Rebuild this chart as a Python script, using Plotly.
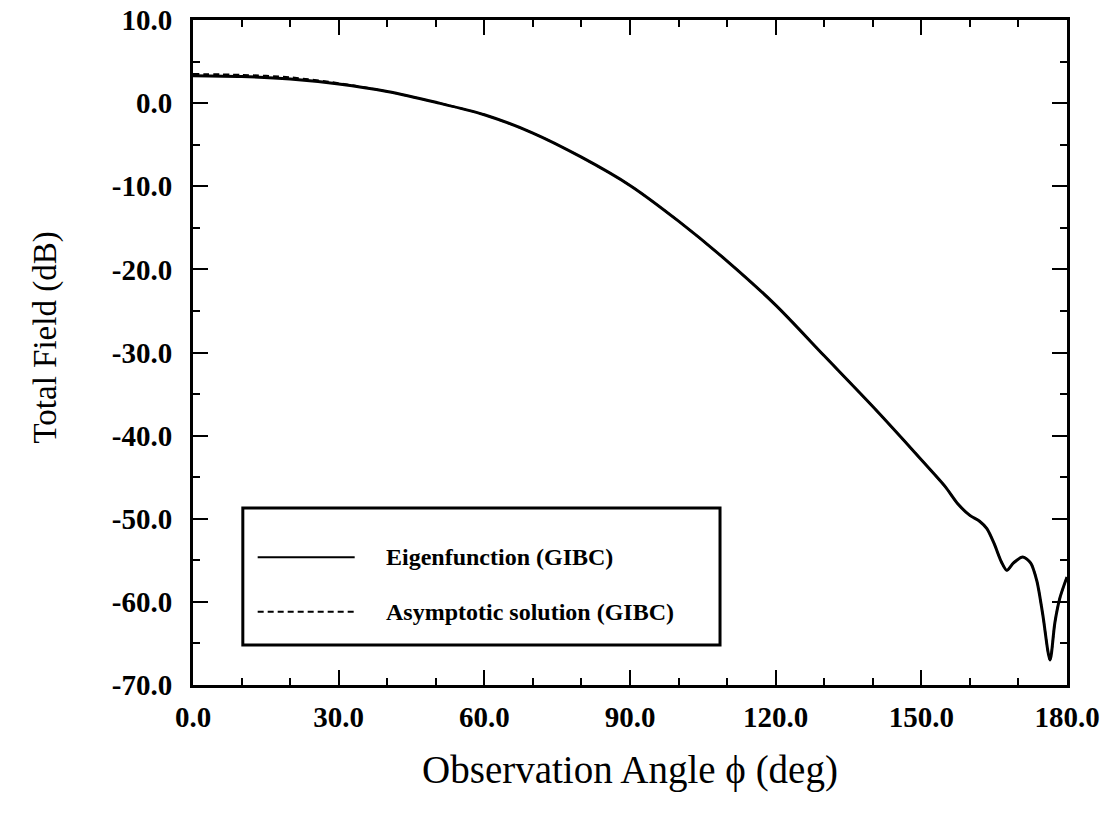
import plotly.graph_objects as go

# Observation angle (deg) and total field (dB)
angle = [0, 10, 20, 30, 40, 50, 60, 70, 80, 90, 100, 110, 120, 130, 140, 148,
         152, 155, 157.5, 160, 162, 163.5, 165, 166.5, 167.6, 169, 170.9,
         172.5, 173.8, 175, 176.5, 177.5, 178.5, 180]
eigen = [3.3, 3.2, 2.9, 2.3, 1.4, 0.1, -1.4, -3.6, -6.5, -9.9, -14.2, -19.0, -24.3,
         -30.4, -36.5, -41.6, -44.2, -46.2, -48.2, -49.6, -50.3, -51.2, -53.0, -55.2,
         -56.2, -55.3, -54.6, -55.3, -57.5, -61.5, -67.0, -62.5, -59.6, -57.0]
asym = [3.5, 3.4, 3.1, 2.4, 1.4, 0.1, -1.4, -3.6, -6.5, -9.9, -14.2, -19.0, -24.3,
        -30.4, -36.5, -41.6, -44.2, -46.2, -48.2, -49.6, -50.3, -51.2, -53.0, -55.2,
        -56.2, -55.3, -54.6, -55.3, -57.5, -61.5, -67.0, -62.5, -59.6, -57.0]

x_ticks = [0, 30, 60, 90, 120, 150, 180]
x_labels = ["0.0", "30.0", "60.0", "90.0", "120.0", "150.0", "180.0"]
y_ticks = [10, 0, -10, -20, -30, -40, -50, -60, -70]
y_labels = ["10.0", "0.0", "-10.0", "-20.0", "-30.0", "-40.0", "-50.0", "-60.0", "-70.0"]
legend_names = ["Eigenfunction (GIBC)", "Asymptotic solution (GIBC)"]
x_title = "Observation Angle \u03d5 (deg)"
y_title = "Total Field (dB)"

FONT = "Liberation Serif"
DASH = "6px,4px"

fig = go.Figure()
fig.add_trace(go.Scatter(x=angle, y=asym, mode="lines", name=legend_names[1],
                         line=dict(color="black", width=2, dash=DASH, shape="spline", smoothing=0.8),
                         showlegend=False))
fig.add_trace(go.Scatter(x=angle, y=eigen, mode="lines", name=legend_names[0],
                         line=dict(color="black", width=3, shape="spline", smoothing=0.8),
                         showlegend=False))

axis_common = dict(showline=True, linecolor="black", linewidth=3, mirror="ticks",
                   ticks="inside", ticklen=15, tickwidth=2, tickcolor="black",
                   showgrid=False, zeroline=False,
                   tickfont=dict(family=FONT, size=29, color="black", weight="bold"))

fig.update_xaxes(range=[0, 180], tickvals=x_ticks, ticktext=x_labels,
                 minor=dict(dtick=10, ticks="inside", ticklen=7, tickwidth=2, tickcolor="black"),
                 title=dict(text=x_title, font=dict(family=FONT, size=39, color="black"), standoff=24),
                 ticklabelstandoff=4,
                 **axis_common)
fig.update_yaxes(range=[-70, 10], tickvals=y_ticks, ticktext=y_labels,
                 minor=dict(dtick=5, ticks="inside", ticklen=7, tickwidth=2, tickcolor="black"),
                 ticklabelstandoff=12,
                 **axis_common)

# Legend box drawn in paper coordinates
shapes = [
    dict(type="rect", xref="paper", yref="paper", x0=0.057, x1=0.603, y0=0.060, y1=0.266,
         line=dict(color="black", width=3), fillcolor="white", layer="below"),
    dict(type="line", xref="paper", yref="paper", x0=0.074, x1=0.185, y0=0.192, y1=0.192,
         line=dict(color="black", width=2)),
    dict(type="line", xref="paper", yref="paper", x0=0.074, x1=0.187, y0=0.110, y1=0.110,
         line=dict(color="black", width=2, dash=DASH)),
]
annotations = [
    dict(xref="paper", yref="paper", x=0.218, y=0.192, text=legend_names[0], showarrow=False,
         xanchor="left", yanchor="middle", font=dict(family=FONT, size=24, color="black", weight="bold")),
    dict(xref="paper", yref="paper", x=0.218, y=0.110, text=legend_names[1], showarrow=False,
         xanchor="left", yanchor="middle", font=dict(family=FONT, size=24, color="black", weight="bold")),
    dict(xref="paper", yref="paper", x=-0.169, y=0.523, text=y_title, showarrow=False,
         textangle=-90, xanchor="center", yanchor="middle",
         font=dict(family=FONT, size=33, color="black")),
]

fig.update_layout(width=1111, height=819, paper_bgcolor="white", plot_bgcolor="white",
                  margin=dict(l=193, r=44, t=20, b=134, autoexpand=False),
                  shapes=shapes, annotations=annotations, showlegend=False)

fig.write_html("out.html", config={"displayModeBar": False})
